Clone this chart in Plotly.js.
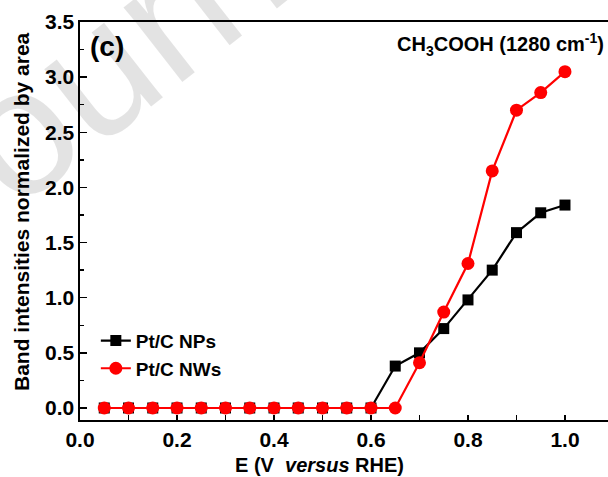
<!DOCTYPE html>
<html>
<head>
<meta charset="utf-8">
<script src="https://cdn.plot.ly/plotly-3.0.1.min.js"></script>
<style>html,body{margin:0;padding:0;background:#fff;}#chart{width:608px;height:477px;}</style>
</head>
<body>
<div id="chart"></div>
<script>
const potentials = [0.05,0.10,0.15,0.20,0.25,0.30,0.35,0.40,0.45,0.50,0.55,0.60,0.65,0.70,0.75,0.80,0.85,0.90,0.95,1.00];
const npsValues  = [0,0,0,0,0,0,0,0,0,0,0,0,0.38,0.50,0.72,0.98,1.25,1.59,1.77,1.84];
const nwsValues  = [0,0,0,0,0,0,0,0,0,0,0,0,0,0.41,0.87,1.31,2.15,2.70,2.86,3.05];
const seriesNames = ["Pt/C NPs","Pt/C NWs"];
const xTickVals = [0.0,0.2,0.4,0.6,0.8,1.0];
const xTickText = ["0.0","0.2","0.4","0.6","0.8","1.0"];
const yTickVals = [0.0,0.5,1.0,1.5,2.0,2.5,3.0,3.5];
const yTickText = ["0.0","0.5","1.0","1.5","2.0","2.5","3.0","3.5"];

const FONT = "Liberation Sans, Arial, sans-serif";

const traces = [
  {x: potentials, y: npsValues, name: seriesNames[0], mode: "lines+markers",
   line: {color: "#000000", width: 2.2},
   marker: {symbol: "square", size: 11, color: "#000000"}},
  {x: potentials, y: nwsValues, name: seriesNames[1], mode: "lines+markers",
   line: {color: "#ff0000", width: 2.2},
   marker: {symbol: "circle", size: 13, color: "#ff0000"}}
];

const layout = {
  width: 608, height: 477,
  margin: {l: 80, r: 0, t: 22, b: 57},
  paper_bgcolor: "#ffffff", plot_bgcolor: "#ffffff",
  font: {family: FONT, color: "#000", size: 19},
  showlegend: true,
  legend: {x: 0.03, y: 0.247, xanchor: "left", yanchor: "top",
           bgcolor: "rgba(0,0,0,0)", font: {family: FONT, size: 19, weight: "bold", color: "#000"},
           tracegroupgap: 0, itemwidth: 30},
  xaxis: {
    range: [0, 1.0887], showgrid: false, zeroline: false,
    showline: true, linecolor: "#000", linewidth: 1.6, mirror: true,
    tickmode: "array", tickvals: xTickVals, ticktext: xTickText,
    ticks: "inside", ticklen: 5, tickwidth: 1.5, tickcolor: "#000",
    minor: {dtick: 0.1, ticks: "inside", ticklen: 5, tickwidth: 1.5, tickcolor: "#000"},
    tickfont: {family: FONT, size: 21, weight: "bold", color: "#000"}
  },
  yaxis: {
    range: [-0.109, 3.5], showgrid: false, zeroline: false,
    showline: true, linecolor: "#000", linewidth: 1.6, mirror: false,
    tickmode: "array", tickvals: yTickVals, ticktext: yTickText,
    ticks: "inside", ticklen: 7, tickwidth: 1.5, tickcolor: "#000",
    minor: {tick0: 0.25, dtick: 0.5, ticks: "inside", ticklen: 4, tickwidth: 1.5, tickcolor: "#000"},
    tickfont: {family: FONT, size: 21, weight: "bold", color: "#000"}
  },
  annotations: [
    {text: "Journal", xref: "paper", yref: "paper", x: 0.11, y: 0.96,
     xanchor: "center", yanchor: "middle", textangle: -38, showarrow: false,
     font: {family: FONT, size: 180, color: "rgba(0,0,0,0.11)"}},
    {text: "E (V  <i>versus</i> RHE)", xref: "paper", yref: "paper",
     x: (319-80)/528, y: -(465-420)/398, xanchor: "center", yanchor: "middle",
     showarrow: false, font: {family: FONT, size: 20, weight: "bold", color: "#000"}},
    {text: "Band intensities normalized by area", xref: "paper", yref: "paper",
     x: -(80-22)/528, y: 1-(212-22)/398, xanchor: "center", yanchor: "middle",
     textangle: -90, showarrow: false, font: {family: FONT, size: 21, weight: "bold", color: "#000"}},
    {text: "(c)", xref: "paper", yref: "paper", x: (88-80)/528, y: 1-(46-22)/398,
     xanchor: "left", yanchor: "middle", showarrow: false,
     font: {family: FONT, size: 28, weight: "bold", color: "#000"}},
    {text: "CH<sub>3</sub>COOH (1280 cm<sup>-1</sup>)", xref: "paper", yref: "paper",
     x: (606-80)/528, y: 1-(45-22)/398, xanchor: "right", yanchor: "middle",
     showarrow: false, font: {family: FONT, size: 20, weight: "bold", color: "#000"}}
  ]
};

Plotly.newPlot("chart", traces, layout, {displayModeBar: false, staticPlot: true});
</script>
</body>
</html>
